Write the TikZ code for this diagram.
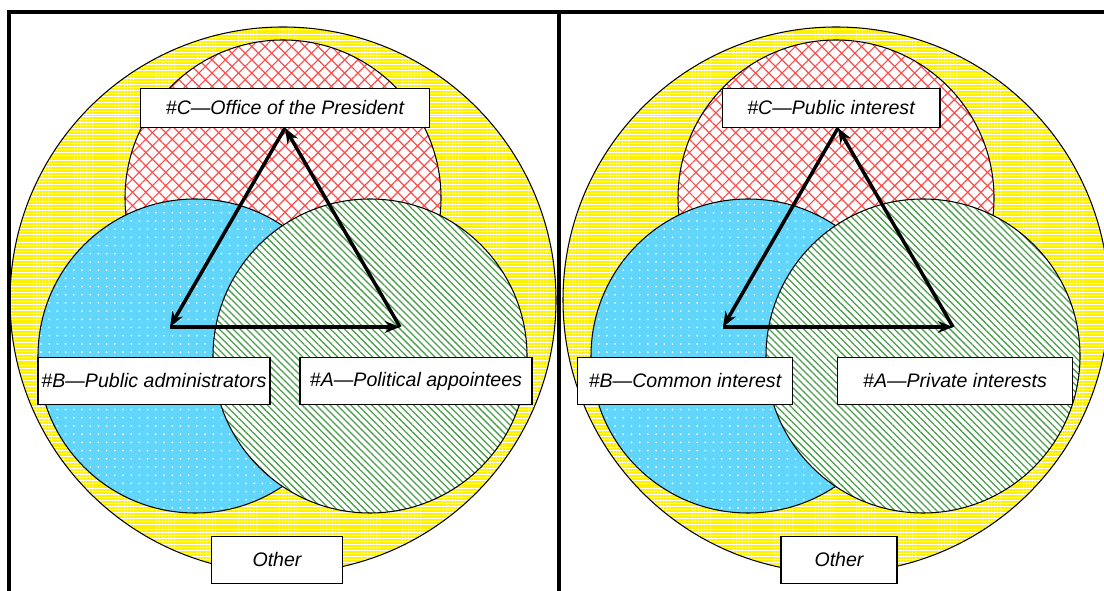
\documentclass[tikz,border=0pt]{standalone}
\usepackage{fontspec}
\setmainfont{Liberation Sans}
\usetikzlibrary{arrows.meta,patterns.meta}
\definecolor{vennYellow}{HTML}{FFF000}
\definecolor{vennRed}{HTML}{FF4A4A}
\definecolor{vennBlue}{HTML}{62D6FA}
\definecolor{vennGreen}{HTML}{4AA04A}

\begin{document}
\begin{tikzpicture}[x=0.03cm, y=0.03cm,
  ring/.style={draw, line width=0.9pt},
  othr/.style={ring, preaction={fill=white},
    pattern={Lines[angle=0,distance=2.5pt,line width=1.7pt]}, pattern color=vennYellow},
  cset/.style={ring, preaction={fill=white},
    preaction={pattern={Lines[angle=45,distance=8pt,line width=1pt]}, pattern color=vennRed},
    pattern={Lines[angle=-45,distance=8pt,line width=1pt]}, pattern color=vennRed},
  bset/.style={ring, preaction={fill=vennBlue},
    pattern={Dots[distance=7pt,radius=0.8pt]}, pattern color=white},
  aset/.style={ring, preaction={fill=white},
    pattern={Lines[angle=-45,distance=4.2pt,line width=1.1pt]}, pattern color=vennGreen},
  lab/.style={draw, fill=white, line width=0.9pt, inner sep=0pt, minimum height=40pt,
    font=\fontsize{16.7}{20}\selectfont\itshape},
  tri/.style={line width=3pt, -{Stealth[length=13pt,width=10pt]}}]
\useasboundingbox (0,0) rectangle (1104,590);
% Left panel: who runs the administration
\begin{scope}
\path[othr] (283,290) circle[radius=273];
\path[cset] (283,392) circle[radius=158];
\path[bset] (195,234) circle[radius=157];
\path[aset] (370,234) circle[radius=157];
\node[lab, minimum width=247pt, minimum height=34pt] (C) at (285,482) {\#C—Office of the President};
\node[lab, minimum width=198pt] (B) at (154,209) {\#B—Public administrators};
\node[lab, minimum width=198pt] (A) at (416,209) {\#A—Political appointees};
\node[lab, minimum width=112pt] (O) at (277,30) {Other};
\coordinate (c) at (285,462);
\coordinate (b) at (170,263);
\coordinate (a) at (400,263);
\draw[tri] (a) -- (c);
\draw[tri] (c) -- (b);
\draw[tri] (b) -- (a);
\end{scope}
% Right panel: whose interest is served
\begin{scope}[shift={(553,0)}]
\path[othr] (283,290) circle[radius=273];
\path[cset] (283,392) circle[radius=158];
\path[bset] (195,234) circle[radius=157];
\path[aset] (370,234) circle[radius=157];
\node[lab, minimum width=186pt, minimum height=34pt] (C2) at (278,482) {\#C—Public interest};
\node[lab, minimum width=184pt] (B2) at (132,209) {\#B—Common interest};
\node[lab, minimum width=201pt] (A2) at (402,209) {\#A—Private interests};
\node[lab, minimum width=99pt] (O2) at (286,30) {Other};
\coordinate (c2) at (285,462);
\coordinate (b2) at (170,263);
\coordinate (a2) at (400,263);
\draw[tri] (a2) -- (c2);
\draw[tri] (c2) -- (b2);
\draw[tri] (b2) -- (a2);
\end{scope}
% frame
\draw[line width=3.4pt] (9,-5) -- (9,578) -- (1110,578);
\draw[line width=3.4pt] (559,-5) -- (559,578);
\end{tikzpicture}
\end{document}
